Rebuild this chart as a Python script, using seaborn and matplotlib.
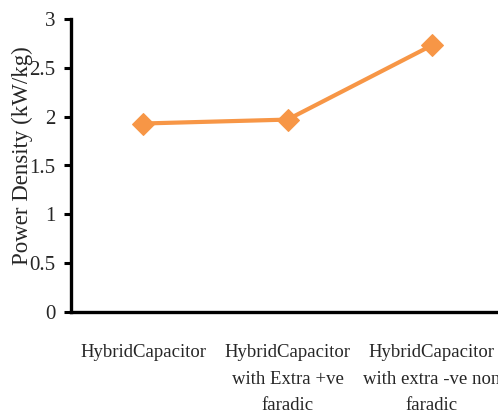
import matplotlib
matplotlib.use("Agg")
import matplotlib.pyplot as plt
import seaborn as sns
import pandas as pd

# Power density of three capacitor configurations
categories = [
    "HybridCapacitor",
    "HybridCapacitor\nwith Extra +ve\nfaradic",
    "HybridCapacitor\nwith extra -ve non\nfaradic",
]
power_density = [1.93, 1.97, 2.73]
y_ticks = [0, 0.5, 1, 1.5, 2, 2.5, 3]
y_tick_labels = ["0", "0.5", "1", "1.5", "2", "2.5", "3"]

sns.set_style("white")
plt.rcParams["font.family"] = ["Liberation Serif", "DejaVu Serif"]

df = pd.DataFrame({"config": categories, "density": power_density})
df["pos"] = range(len(categories))

fig = plt.figure(figsize=(4.98, 4.19), dpi=100)
ax = fig.add_axes([71 / 498, 107 / 419, 433 / 498, 293 / 419])

sns.lineplot(data=df, x="pos", y="density", ax=ax, color="#F79646",
             linewidth=3, marker="D", markersize=11,
             markeredgecolor="#F79646", clip_on=False)

ax.set_xlim(-0.5, 2.5)
ax.set_ylim(0, 3)

# category labels centred between the boundary ticks
ax.set_xticks(range(len(categories)))
ax.set_xticklabels(categories, fontsize=13.5, linespacing=1.75, va="top")
ax.tick_params(axis="x", which="major", length=0, pad=23)
ax.set_xticks([-0.5, 0.5, 1.5], minor=True)
ax.tick_params(axis="x", which="minor", length=5, width=2.2,
               direction="out", color="black")

ax.set_yticks(y_ticks)
ax.set_yticklabels(y_tick_labels, fontsize=15)
ax.tick_params(axis="y", length=5, width=2.2, direction="out",
               color="black", pad=6, left=True)

for side in ["top", "right"]:
    ax.spines[side].set_visible(False)
for side in ["left", "bottom"]:
    ax.spines[side].set_color("black")
    ax.spines[side].set_linewidth(2.4)

ax.set_xlabel("")
ax.set_ylabel("Power Density (kW/kg)", fontsize=16.5)
ax.yaxis.set_label_coords(-0.088, 0.535)

fig.savefig("out.png", dpi=100)
